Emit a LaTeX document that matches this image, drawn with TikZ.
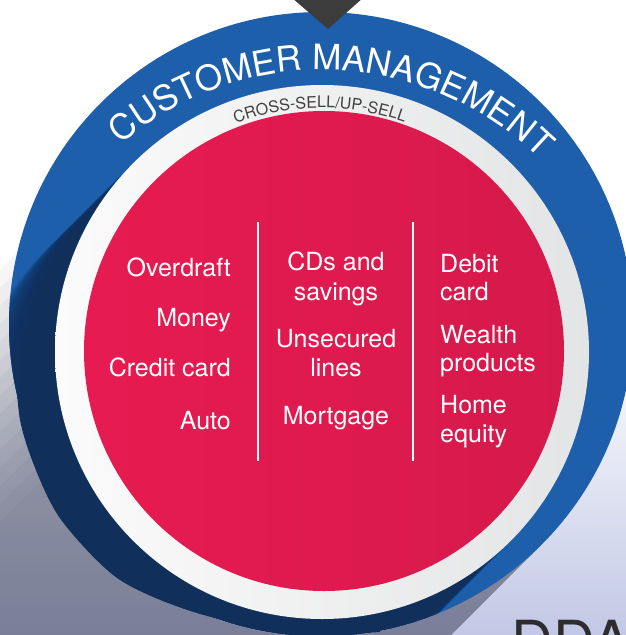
\documentclass[tikz,border=0pt]{standalone}
\usepackage{fontspec}
\setmainfont{TeX Gyre Heros}
\usetikzlibrary{decorations.text}

\definecolor{cmblue}{HTML}{1E5FAB}
\definecolor{cmnavy}{HTML}{10305B}
\definecolor{cmredlt}{HTML}{E71B51}
\definecolor{cmreddk}{HTML}{D6194B}
\definecolor{ringlt}{HTML}{FBFBFB}
\definecolor{ringdk}{HTML}{E3E4E5}
\definecolor{sellgray}{HTML}{404040}
\definecolor{tridark}{HTML}{3C3C3C}
\definecolor{lavender}{HTML}{C2C8E5}
\definecolor{shadowc}{HTML}{2E3248}
\definecolor{ddagray}{HTML}{2D2D2D}

\newcommand\prodfont{\fontsize{25}{30}\selectfont}
\newcommand\mgmtfont{\fontsize{35}{40}\selectfont}
\newcommand\sellfont{\fontsize{16}{18}\selectfont}

\tikzset{
  leftcol/.style={anchor=base east, inner sep=0, text=white, font=\prodfont},
  midcol/.style={anchor=base, inner sep=0, text=white, font=\prodfont},
  rightcol/.style={anchor=base west, inner sep=0, text=white, font=\prodfont},
  colsep/.style={draw=white, line width=2pt},
}

\begin{document}
\begin{tikzpicture}[x=1pt,y=-1pt]
\useasboundingbox (0,0) rectangle (626,635);
\clip (0,0) rectangle (626,635);
% background
\fill[white] (0,0) rectangle (626,635);
\shade[top color=white, bottom color=lavender] (0,330) rectangle (626,635);
% long shadow behind the disc
\foreach \k in {0,...,14}
  \fill[shadowc, opacity=.04] ({133.4+9*\k},{136.4+9*\k}) -- ({-666.6+9*\k},{936.4+9*\k})
    -- (-258.4,1344.6) -- (541.6,544.6) -- cycle;
% dark rim, lower left
\fill[cmnavy] plot[smooth] coordinates {(14,340) (20,420) (40,480) (65,525) (120,580) (200,614) (300,633) (380,632)}
  -- (321,324) -- cycle;
% blue disc
\fill[cmblue] (321,324) circle[radius=312];
\begin{scope}
  \clip (321,324) circle[radius=312];
  \foreach \t in {0,1.5,...,90}
    \fill[cmnavy, opacity=.06] ({322-\t},{352+\t}) circle[radius=267];
\end{scope}
% white ring and red disc
\shade[shading angle=45, left color=ringlt, right color=ringdk] (322,352) circle[radius=267];
\shade[shading angle=45, left color=cmredlt, right color=cmreddk] (324,351) circle[radius=240];
% column separators
\draw[colsep] (258,222) -- (258,461);
\draw[colsep] (413,222) -- (413,461);
% products
\foreach \y/\t [count=\i] in {276/Overdraft, 326/Money, 376/Credit card, 429/Auto}
  \node[leftcol] (l\i) at (231,\y) {\t};
\foreach \y/\t [count=\i] in {270/CDs and, 300/savings, 347/Unsecured, 376/lines, 424/Mortgage}
  \node[midcol] (m\i) at (336,\y) {\t};
\foreach \y/\t [count=\i] in {272/Debit, 300/card, 343/Wealth, 371/products, 413/Home, 442/equity}
  \node[rightcol] (r\i) at (440,\y) {\t};
% curved titles
\path[decorate, decoration={text along path, text={|\mgmtfont|CUSTOMER MANAGEMENT},
    text align=center, text color=white}]
  (322,380) ++(192:310) arc[start angle=192, end angle=352, radius=310];
\path[decorate, decoration={text along path, text={|\sellfont|CROSS-SELL/UP-SELL},
    text align=center, text color=sellgray}]
  (322,352) ++(189.5:244) arc[start angle=189.5, end angle=349.5, radius=244];
% pointer
\fill[tridark] (291,-3) -- (364,-3) -- (328,29) -- cycle;
\node[anchor=base west, inner sep=0, text=ddagray, font=\fontsize{58}{60}\selectfont] (dda) at (511,662) {DDA};
\end{tikzpicture}
\end{document}
